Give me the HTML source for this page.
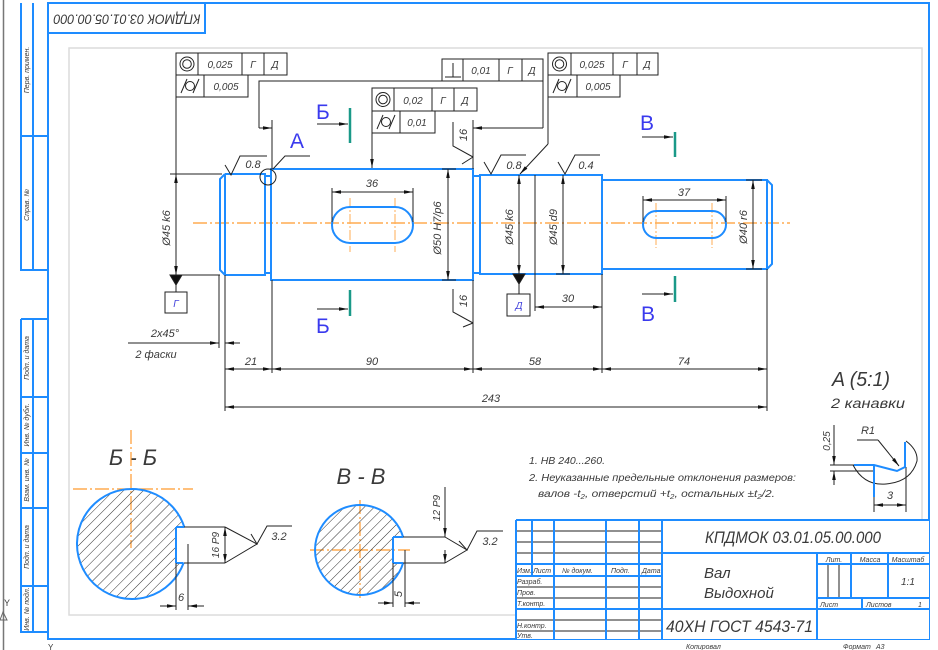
<!DOCTYPE html>
<html><head><meta charset="utf-8"><style>
html,body{margin:0;padding:0;background:#fff;}
svg{display:block;}
text{font-family:"Liberation Sans",sans-serif;font-style:italic;fill:#3a3a3a;}
</style></head><body>
<svg width="938" height="650" viewBox="0 0 938 650" xmlns="http://www.w3.org/2000/svg">
<defs>
<marker id="a" viewBox="0 0 10 4" refX="10" refY="2" markerWidth="9" markerHeight="3.6" markerUnits="userSpaceOnUse" orient="auto-start-reverse"><path d="M0,0L10,2L0,4z" fill="#111"/></marker>
<pattern id="h" width="7" height="7" patternUnits="userSpaceOnUse" patternTransform="rotate(45)"><line x1="0" y1="0" x2="0" y2="7" stroke="#333" stroke-width="1"/></pattern>
</defs>

<!-- sheet frame -->
<line x1="3.5" y1="0" x2="3.5" y2="650" stroke="#777" stroke-width="1.5"/>
<rect x="69" y="48" width="853" height="567" fill="none" stroke="#dcdcdc" stroke-width="1.5"/>
<g stroke="#1e8cff" stroke-width="2" fill="none">
<path d="M48,3H929V639H48Z"/>
<path d="M21,3V270H48 M33,3V270 M21,136H48"/>
<path d="M48,33H205V3"/>
<path d="M21,319H48 M21,319V632H48 M33,319V632 M21,397H48 M21,453H48 M21,508H48 M21,586H48"/>
</g>
<text transform="translate(127,18) rotate(180)" text-anchor="middle" dominant-baseline="middle" font-size="14" textLength="147" lengthAdjust="spacingAndGlyphs">КПДМОК 03.01.05.00.000</text>
<g font-size="7" text-anchor="middle">
<text transform="translate(29,70) rotate(-90)">Перв. примен.</text>
<text transform="translate(29,205) rotate(-90)">Справ. №</text>
<text transform="translate(29,358) rotate(-90)">Подп. и дата</text>
<text transform="translate(29,425) rotate(-90)">Инв. № дубл.</text>
<text transform="translate(29,480) rotate(-90)">Взам. инв. №</text>
<text transform="translate(29,547) rotate(-90)">Подп. и дата</text>
<text transform="translate(29,609) rotate(-90)">Инв. № подл.</text>
</g>
<text x="4" y="606" font-size="9" style="font-style:normal">Y</text>
<path d="M3,612L7,620H0Z" fill="none" stroke="#666"/>
<text x="48" y="650" font-size="8" style="font-style:normal">Y</text>

<!-- centerline main -->
<line x1="193" y1="223" x2="790" y2="223" stroke="#ff9a2e" stroke-width="1.2" stroke-dasharray="14 3 2 3"/>
<g stroke="#ffae55" stroke-width="1" stroke-dasharray="10 2 2 2">
<line x1="350" y1="198" x2="350" y2="252"/><line x1="395" y1="198" x2="395" y2="252"/>
<line x1="656" y1="203" x2="656" y2="248"/><line x1="712" y1="203" x2="712" y2="248"/>
</g>

<!-- shaft -->
<g stroke="#1e8cff" stroke-width="2" fill="none">
<path d="M225,174H265V275H225 M225,174L220,179V270L225,275 M225,174V275"/>
<path d="M265,176H271 M265,273H271"/>
<rect x="271" y="169" width="202" height="111"/>
<path d="M473,176H480 M473,273H480"/>
<rect x="480" y="175" width="122" height="99"/>
<path d="M602,180H767V269H602 M767,180L772,185V264L767,269"/>
<rect x="332" y="207" width="81" height="36" rx="18"/>
<rect x="643" y="211" width="83" height="27" rx="13.5"/>
</g>

<!-- black drawing lines -->
<g stroke="#222" stroke-width="1" fill="none">
<path d="M170,174H222 M172,275H220"/>
<path d="M176,97V174" />
<line x1="176" y1="174" x2="176" y2="275" marker-start="url(#a)" marker-end="url(#a)"/>
<line x1="176" y1="285" x2="176" y2="292"/>
<rect x="165" y="292" width="22" height="21"/>
<line x1="448" y1="169" x2="448" y2="280" marker-start="url(#a)" marker-end="url(#a)"/>
<path d="M442,169H456 M442,280H456"/>
<path d="M332,188V222 M413,188V222"/>
<line x1="332" y1="192" x2="413" y2="192" marker-start="url(#a)" marker-end="url(#a)"/>
<line x1="535" y1="175" x2="535" y2="311"/>
<line x1="519" y1="175" x2="519" y2="274" marker-start="url(#a)" marker-end="url(#a)"/>
<line x1="563" y1="175" x2="563" y2="274" marker-start="url(#a)" marker-end="url(#a)"/>
<path d="M556,274H570"/>
<line x1="519" y1="284" x2="519" y2="294"/>
<rect x="507" y="294" width="23" height="22"/>
<line x1="535" y1="307" x2="602" y2="307" marker-start="url(#a)" marker-end="url(#a)"/>
<path d="M643,196V222 M726,196V222"/>
<line x1="643" y1="200" x2="726" y2="200" marker-start="url(#a)" marker-end="url(#a)"/>
<line x1="753" y1="180" x2="753" y2="269" marker-start="url(#a)" marker-end="url(#a)"/>
<path d="M746,180H762 M746,269H762"/>

<path d="M170,275H182L176,285Z M513,274H525L519,284Z" fill="#111"/>

<path d="M219,275V348 M225,275V411 M272,280V373 M473,280V373 M602,274V373 M767,269V411"/>
<line x1="128" y1="343" x2="219" y2="343" marker-end="url(#a)"/>
<line x1="240" y1="343" x2="225" y2="343" marker-end="url(#a)"/>
<line x1="225" y1="369" x2="272" y2="369" marker-start="url(#a)" marker-end="url(#a)"/>
<line x1="272" y1="369" x2="473" y2="369" marker-start="url(#a)" marker-end="url(#a)"/>
<line x1="473" y1="369" x2="602" y2="369" marker-start="url(#a)" marker-end="url(#a)"/>
<line x1="602" y1="369" x2="767" y2="369" marker-start="url(#a)" marker-end="url(#a)"/>
<line x1="225" y1="407" x2="767" y2="407" marker-start="url(#a)" marker-end="url(#a)"/>

<rect x="176" y="53" width="111" height="22"/><path d="M198,53V75 M242,53V75 M264,53V75"/>
<rect x="176" y="75" width="72" height="22"/><path d="M204,75V97"/>
<circle cx="187" cy="64" r="7"/><circle cx="187" cy="64" r="4.3"/>
<circle cx="190" cy="86" r="4.5"/><path d="M181,93L187,79 M193,93L199,79"/>

<rect x="442" y="59" width="101" height="22"/><path d="M463,59V81 M499,59V81 M522,59V81"/>
<path d="M453,63V77 M445,77H461"/>

<rect x="372" y="88" width="105" height="23"/><path d="M394,88V111 M432,88V111 M454,88V111"/>
<rect x="372" y="111" width="63" height="22"/><path d="M400,111V133"/>
<circle cx="383" cy="99.5" r="7"/><circle cx="383" cy="99.5" r="4.3"/>
<circle cx="386" cy="122" r="4.5"/><path d="M377,129L383,115 M389,129L395,115"/>

<rect x="548" y="53" width="110" height="22"/><path d="M571,53V75 M613,53V75 M637,53V75"/>
<rect x="548" y="75" width="72" height="22"/><path d="M577,75V97"/>
<circle cx="559.5" cy="64" r="7"/><circle cx="559.5" cy="64" r="4.3"/>
<circle cx="562" cy="86" r="4.5"/><path d="M553,93L559,79 M565,93L571,79"/>

<path d="M442,81H259V128" />
<line x1="259" y1="128" x2="272" y2="128" marker-end="url(#a)"/>
<path d="M272,120V169"/>
<path d="M543,81V128"/>
<line x1="543" y1="128" x2="473" y2="128" marker-end="url(#a)"/>
<path d="M473,120V169"/>
<line x1="372" y1="133" x2="372" y2="168" marker-end="url(#a)"/>
<path d="M548,97V144"/>
<line x1="548" y1="144" x2="520" y2="174" marker-end="url(#a)"/>

<path d="M225,165L231,175L240,156H267"/>
<path d="M484,162L491,174L501,155H526"/>
<path d="M558,162L565,174L575,155H600"/>
<path d="M453,122V146L473,157 M462,164L473,157"/>
<path d="M453,289V312L473,323 M463,327L473,323"/>

<circle cx="268" cy="177" r="8"/>
<path d="M273,169L285,156H310"/>

<line x1="317" y1="124" x2="348" y2="124" marker-end="url(#a)"/>
<line x1="317" y1="309" x2="348" y2="309" marker-end="url(#a)"/>
<line x1="642" y1="137" x2="673" y2="137" marker-end="url(#a)"/>
<line x1="642" y1="294" x2="673" y2="294" marker-end="url(#a)"/>
</g>
<g stroke="#1a9988" stroke-width="2.5">
<line x1="350" y1="108" x2="350" y2="143"/>
<line x1="350" y1="290" x2="350" y2="316"/>
<line x1="675" y1="132" x2="675" y2="157"/>
<line x1="675" y1="276" x2="675" y2="302"/>
</g>

<g font-size="21" style="font-style:normal">
<text x="290" y="148" fill="#3a3aee" style="fill:#3a3aee;font-style:normal">A</text>
<text x="316" y="119" style="fill:#3a3aee;font-style:normal">Б</text>
<text x="316" y="333" style="fill:#3a3aee;font-style:normal">Б</text>
<text x="640" y="130" style="fill:#3a3aee;font-style:normal">В</text>
<text x="641" y="321" style="fill:#3a3aee;font-style:normal">В</text>
</g>
<text x="176" y="307" font-size="10" text-anchor="middle" style="fill:#4444dd">Г</text>
<text x="519" y="309" font-size="10" text-anchor="middle" style="fill:#4444dd">Д</text>

<g font-size="10" text-anchor="middle">
<text x="220" y="68">0,025</text><text x="253" y="68">Г</text><text x="275" y="68">Д</text>
<text x="226" y="90">0,005</text>
<text x="481" y="74">0,01</text><text x="510" y="74">Г</text><text x="532" y="74">Д</text>
<text x="413" y="104">0,02</text><text x="443" y="104">Г</text><text x="465" y="104">Д</text>
<text x="417" y="126">0,01</text>
<text x="592" y="68">0,025</text><text x="625" y="68">Г</text><text x="647" y="68">Д</text>
<text x="598" y="90">0,005</text>
</g>

<g font-size="11" text-anchor="middle">
<text x="253" y="168">0.8</text>
<text x="514" y="169">0.8</text>
<text x="586" y="169">0.4</text>
<text transform="translate(467,135) rotate(-90)">16</text>
<text transform="translate(467,301) rotate(-90)">16</text>
<text x="372" y="187">36</text>
<text x="684" y="196">37</text>
<text x="568" y="302">30</text>
<text transform="translate(170,228) rotate(-90)">Ø45 k6</text>
<text transform="translate(441,228) rotate(-90)">Ø50 H7/p6</text>
<text transform="translate(513,227) rotate(-90)">Ø45 k6</text>
<text transform="translate(557,227) rotate(-90)">Ø45 d9</text>
<text transform="translate(747,227) rotate(-90)">Ø40 r6</text>
<text x="165" y="337">2x45°</text>
<text x="156" y="358">2 фаски</text>
<text x="251" y="365">21</text>
<text x="372" y="365">90</text>
<text x="535" y="365">58</text>
<text x="684" y="365">74</text>
<text x="491" y="402">243</text>
</g>

<text x="832" y="386" font-size="20" textLength="58" lengthAdjust="spacingAndGlyphs">A (5:1)</text>
<text x="831" y="408" font-size="14" textLength="74" lengthAdjust="spacingAndGlyphs">2 канавки</text>
<g stroke="#222" stroke-width="1" fill="none">
<line x1="834" y1="425" x2="834" y2="465" marker-end="url(#a)"/>
<line x1="834" y1="485" x2="834" y2="471" marker-end="url(#a)"/>
<path d="M830,465H854 M830,471H874"/>
<path d="M874,497V512 M906,467V512"/>
<line x1="874" y1="505" x2="906" y2="505" marker-start="url(#a)" marker-end="url(#a)"/>
<path d="M853,465Q864,486 886,484Q911,482 917,461Q918,450 906,441"/>
<path d="M857,440H878"/>
<line x1="878" y1="440" x2="899" y2="466" marker-end="url(#a)"/>
</g>
<path d="M854,465H874L897,471L905,467V442 M874,465V497" stroke="#1e8cff" stroke-width="2" fill="none"/>
<text transform="translate(830,441) rotate(-90)" font-size="10" text-anchor="middle">0,25</text>
<text x="868" y="434" font-size="11" text-anchor="middle">R1</text>
<text x="890" y="499" font-size="11" text-anchor="middle">3</text>

<g font-size="10.5">
<text x="529" y="464" textLength="76" lengthAdjust="spacingAndGlyphs">1. НВ 240...260.</text>
<text x="529" y="481" textLength="267" lengthAdjust="spacingAndGlyphs">2. Неуказанные предельные отклонения размеров:</text>
<text x="538" y="497" textLength="237" lengthAdjust="spacingAndGlyphs">валов -t<tspan font-size="7" dy="2">2</tspan><tspan dy="-2">, отверстий +t</tspan><tspan font-size="7" dy="2">2</tspan><tspan dy="-2">, остальных ±t</tspan><tspan font-size="7" dy="2">2</tspan><tspan dy="-2">/2.</tspan></text>
</g>

<!-- Section Б-Б -->
<text x="133" y="465" font-size="22" text-anchor="middle">Б - Б</text>
<g stroke="#ff9a2e" stroke-width="1.2" stroke-dasharray="14 3 2 3">
<line x1="73" y1="489" x2="193" y2="489"/>
<line x1="131" y1="430" x2="131" y2="548"/>
</g>
<path d="M184.3,527A55,55 0 1,0 183.6,563H176V527Z" fill="url(#h)" stroke="none"/>
<path d="M184.3,527A55,55 0 1,0 183.6,563 M176,527V563 M176,527H184.3 M176,563H183.6" fill="none" stroke="#1e8cff" stroke-width="2"/>
<g stroke="#222" stroke-width="1" fill="none">
<path d="M184,527H225 M184,563H225"/>
<line x1="225" y1="545" x2="225" y2="527" marker-end="url(#a)"/>
<line x1="225" y1="545" x2="225" y2="563" marker-end="url(#a)"/>
<path d="M225,527L257,544L225,563"/>
<path d="M251,534L257,544L267,526H292"/>
<path d="M176,563V610 M188,544V610"/>
<line x1="160" y1="606" x2="176" y2="606" marker-end="url(#a)"/>
<line x1="204" y1="606" x2="188" y2="606" marker-end="url(#a)"/>
</g>
<text transform="translate(219,545) rotate(-90)" font-size="10" text-anchor="middle">16 P9</text>
<text x="279" y="540" font-size="11" text-anchor="middle">3.2</text>
<text x="181" y="601" font-size="11" text-anchor="middle">6</text>

<!-- Section В-В -->
<text x="361" y="484" font-size="22" text-anchor="middle">В - В</text>
<g stroke="#ff9a2e" stroke-width="1.2" stroke-dasharray="14 3 2 3">
<line x1="310" y1="550" x2="410" y2="550"/>
<line x1="360" y1="500" x2="360" y2="598"/>
</g>
<path d="M403.1,537A45,45 0 1,0 403.1,563H393V537Z" fill="url(#h)" stroke="none"/>
<path d="M403.1,537A45,45 0 1,0 403.1,563 M393,537V563 M393,537H403.1 M393,563H403.1" fill="none" stroke="#1e8cff" stroke-width="2"/>
<g stroke="#222" stroke-width="1" fill="none">
<path d="M403,537H445 M403,563H445"/>
<line x1="445" y1="487" x2="445" y2="537" marker-end="url(#a)"/>
<line x1="445" y1="550" x2="445" y2="563" marker-end="url(#a)"/>
<path d="M445,537L467,550L445,563"/>
<path d="M459,541L467,550L477,531H503"/>
<path d="M393,563V607 M405,550V607"/>
<line x1="378" y1="603" x2="393" y2="603" marker-end="url(#a)"/>
<line x1="420" y1="603" x2="405" y2="603" marker-end="url(#a)"/>
</g>
<text transform="translate(440,508) rotate(-90)" font-size="10" text-anchor="middle">12 P9</text>
<text x="490" y="545" font-size="11" text-anchor="middle">3.2</text>
<text transform="translate(402,594) rotate(-90)" font-size="11" text-anchor="middle">5</text>

<!-- Title block -->
<rect x="516" y="520" width="413" height="119" fill="#fff" stroke="none"/>
<g stroke="#222" stroke-width="1" fill="none">
<path d="M516,531H662 M516,542H662 M516,553H662 M516,587H662 M516,598H662 M516,620H662 M516,631H662"/>
<path d="M828,564V598 M839,564V598"/>
</g>
<g stroke="#1e8cff" stroke-width="2" fill="none">
<path d="M516,520H929 M516,520V639 M532,520V576 M554,520V639 M606,520V639 M639,520V639 M662,520V639"/>
<path d="M516,564H662 M516,576H662 M516,609H929 M662,553H929"/>
<path d="M817,553V639 M851,553V598 M888,553V598 M817,564H929 M817,598H929 M862,598V609"/>
</g>
<text x="793" y="543" font-size="17" text-anchor="middle" textLength="176" lengthAdjust="spacingAndGlyphs">КПДМОК 03.01.05.00.000</text>
<text x="704" y="578" font-size="15">Вал</text>
<text x="704" y="598" font-size="15">Выдохной</text>
<text x="666" y="632" font-size="17" textLength="147" lengthAdjust="spacingAndGlyphs">40ХН ГОСТ 4543-71</text>
<g font-size="7">
<text x="517" y="573">Изм.</text><text x="533" y="573">Лист</text>
<text x="562" y="573">№ докум.</text><text x="611" y="573">Подп.</text><text x="642" y="573">Дата</text>
<text x="517" y="584">Разраб.</text><text x="517" y="595">Пров.</text>
<text x="517" y="606">Т.контр.</text><text x="517" y="628">Н.контр.</text><text x="517" y="638">Утв.</text>
<text x="834" y="562" text-anchor="middle">Лит.</text>
<text x="870" y="562" text-anchor="middle">Масса</text>
<text x="908" y="562" text-anchor="middle">Масштаб</text>
<text x="820" y="607">Лист</text>
<text x="866" y="607">Листов</text><text x="918" y="607">1</text>
<text x="686" y="649">Копировал</text>
<text x="843" y="649">Формат</text><text x="876" y="649">A3</text>
</g>
<text x="908" y="585" font-size="10" text-anchor="middle">1:1</text>
</svg>
</body></html>
